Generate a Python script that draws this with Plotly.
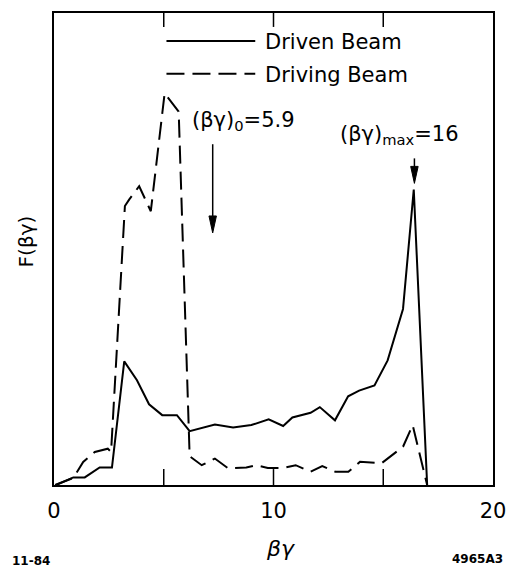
import plotly.graph_objects as go

# Driven beam (solid)
driven_x = [0.1, 0.88, 1.4, 2.08, 2.64, 3.2, 3.78, 4.33, 4.93, 5.6, 6.18, 7.33, 8.16, 8.99, 9.78,
            10.44, 10.86, 11.69, 12.11, 12.8, 13.4, 13.9, 14.6, 15.2, 15.9, 16.39, 17.0]
driven_y = [0, 1.6, 1.6, 3.7, 3.7, 26.2, 22.2, 17.1, 14.8, 14.8, 11.4, 12.8, 12.2, 12.7, 13.9,
            12.5, 14.3, 15.3, 16.5, 13.7, 18.8, 20.0, 21.1, 26.4, 37.3, 62.6, 0]

# Driving beam (dashed)
driving_x = [0.05, 0.88, 1.33, 1.86, 2.45, 2.6, 3.23, 3.43, 3.88, 4.41, 5.04, 5.68, 6.18, 6.73,
             7.33, 7.94, 8.76, 9.21, 9.74, 10.44, 11.01, 11.69, 12.22, 12.82, 13.41, 13.94,
             14.92, 15.9, 16.34, 17.0]
driving_y = [0, 1.5, 4.9, 7.0, 7.7, 7.0, 59.1, 60.5, 63.3, 58.0, 83.0, 79.1, 6.1, 4.2,
             5.6, 3.5, 3.7, 4.2, 3.6, 3.6, 4.2, 2.8, 4.0, 2.8, 2.8, 4.9,
             4.6, 8.1, 12.7, 0]

label_vals = [0, 10, 20]
label_text = ["0", "10", "20"]
inner_ticks = [5, 10, 15]

# annotation marker positions (beta-gamma value, F value of arrow tip / tail)
arrow0_x, arrow0_tip, arrow0_tail = 7.23, 53.4, 72.2
arrowm_x, arrowm_tip, arrowm_tail = 16.42, 63.9, 69.2

FONT = "DejaVu Sans"
W, H = 517, 567
L, R, T, B = 54, 18, 11, 82
PW, PH = W - L - R, H - T - B
TICKLEN = 16


def px(x):
    return (x - L) / PW


def py(y):
    return (H - B - y) / PH


fig = go.Figure()
fig.add_trace(go.Scatter(x=driven_x, y=driven_y, mode="lines", name="Driven Beam",
                         line=dict(color="black", width=2), showlegend=False))
fig.add_trace(go.Scatter(x=driving_x, y=driving_y, mode="lines", name="Driving Beam",
                         line=dict(color="black", width=2, dash="18px,8px"), showlegend=False))

fig.update_layout(
    width=W, height=H,
    margin=dict(l=L, r=R, t=T, b=B),
    paper_bgcolor="white", plot_bgcolor="white",
    font=dict(family=FONT, color="black"),
    xaxis=dict(range=[0, 20], tickmode="array", tickvals=label_vals, ticktext=label_text,
               ticks="", ticklabelstandoff=6,
               showline=True, linecolor="black", linewidth=1.5, mirror=True,
               showgrid=False, zeroline=False, tickfont=dict(size=21, family=FONT)),
    yaxis=dict(range=[0, 100], showticklabels=False, ticks="",
               showline=True, linecolor="black", linewidth=1.5, mirror=True,
               showgrid=False, zeroline=False),
)

# inward ticks on bottom and top frame
for v in inner_ticks:
    fig.add_shape(type="line", xref="x", yref="paper", x0=v, x1=v, y0=0, y1=TICKLEN / PH,
                  line=dict(color="black", width=1.5))
    fig.add_shape(type="line", xref="x", yref="paper", x0=v, x1=v, y0=1, y1=1 - (TICKLEN - 2) / PH,
                  line=dict(color="black", width=1.5))

# legend drawn manually
fig.add_shape(type="line", xref="paper", yref="paper", x0=px(168), x1=px(258), y0=py(39), y1=py(39),
              line=dict(color="black", width=2))
fig.add_shape(type="line", xref="paper", yref="paper", x0=px(168), x1=px(258), y0=py(72), y1=py(72),
              line=dict(color="black", width=2, dash="18px,8px"))
fig.add_annotation(xref="paper", yref="paper", x=px(266), y=py(40), text="Driven Beam",
                   showarrow=False, xanchor="left", yanchor="middle", font=dict(size=21))
fig.add_annotation(xref="paper", yref="paper", x=px(266), y=py(73), text="Driving Beam",
                   showarrow=False, xanchor="left", yanchor="middle", font=dict(size=21))

# labels
fig.add_annotation(xref="paper", yref="paper", x=px(192), y=py(119),
                   text="(βγ)<sub>0</sub>=5.9", showarrow=False, xanchor="left",
                   yanchor="middle", font=dict(size=21))
fig.add_annotation(xref="paper", yref="paper", x=px(342), y=py(134),
                   text="(βγ)<sub>max</sub>=16", showarrow=False, xanchor="left",
                   yanchor="middle", font=dict(size=21))

# arrows (shaft + head)
for ax_, tip, tail in [(arrow0_x, arrow0_tip, arrow0_tail), (arrowm_x, arrowm_tip, arrowm_tail)]:
    fig.add_shape(type="line", xref="x", yref="y", x0=ax_, x1=ax_, y0=tail, y1=tip + 1.5,
                  line=dict(color="black", width=1.5))
    fig.add_shape(type="path", xref="x", yref="y",
                  path=f"M {ax_ - 0.17} {tip + 3.6} L {ax_ + 0.17} {tip + 3.6} L {ax_} {tip} Z",
                  fillcolor="black", line=dict(color="black", width=1))

# axis titles and corner labels
fig.add_annotation(xref="paper", yref="paper", x=px(26), y=py(240), xanchor="center",
                   yanchor="middle", text="F(βγ)", textangle=-90, showarrow=False,
                   font=dict(size=20))
fig.add_annotation(xref="paper", yref="paper", x=px(284), y=py(549), xanchor="center",
                   yanchor="middle", text="<i>βγ</i>", showarrow=False, font=dict(size=22))
fig.add_annotation(xref="paper", yref="paper", x=px(9), y=py(561), xanchor="left",
                   yanchor="middle", text="<b>11-84</b>", showarrow=False, font=dict(size=12))
fig.add_annotation(xref="paper", yref="paper", x=px(511), y=py(559), xanchor="right",
                   yanchor="middle", text="<b>4965A3</b>", showarrow=False, font=dict(size=12))

fig.write_html("out.html")
